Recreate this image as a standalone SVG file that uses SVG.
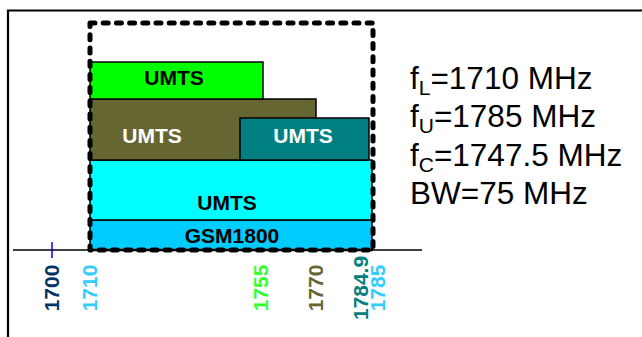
<svg xmlns="http://www.w3.org/2000/svg" width="642" height="337" viewBox="0 0 642 337">
<style>
.band{stroke:#000;stroke-width:1.5}
.lbl{font-family:"Liberation Sans",Arial,sans-serif;font-weight:bold;font-size:21px;text-anchor:middle}
.ax{font-family:"Liberation Sans",Arial,sans-serif;font-weight:bold;font-size:21px;text-anchor:middle}
.info{font-family:"Liberation Sans",Arial,sans-serif;font-size:31.5px}
.sub{font-size:21px}
</style>
<rect width="642" height="337" fill="#fff"/>
<path d="M8,337 V10.5 H642" fill="none" stroke="#000" stroke-width="2.2"/>
<g id="bands">
<g id="gsm1800"><rect class="band" x="90" y="220" width="282" height="30" fill="#00ccff"/><text class="lbl" x="232" y="243" fill="#000">GSM1800</text></g>
<g id="umts-cyan"><rect class="band" x="90" y="160" width="282" height="60" fill="#00ffff"/><text class="lbl" x="227" y="210" fill="#000">UMTS</text></g>
<g id="umts-olive"><rect class="band" x="90" y="99" width="226" height="61" fill="#666633"/><text class="lbl" x="152" y="143" fill="#fff">UMTS</text></g>
<g id="umts-teal"><rect class="band" x="240" y="118" width="129" height="42" fill="#008080"/><text class="lbl" x="303" y="143" fill="#fff">UMTS</text></g>
<g id="umts-green"><rect class="band" x="90" y="62" width="173" height="37" fill="#00ff00"/><text class="lbl" x="174" y="85" fill="#000">UMTS</text></g>
</g>
<g id="connectors">
<line x1="13" y1="250" x2="422" y2="250" stroke="#000" stroke-width="1.5"/>
<line x1="90" y1="250" x2="373" y2="250" stroke="#000" stroke-width="2.5"/>
<line x1="52" y1="242" x2="52" y2="258" stroke="#0000ff" stroke-width="1.5"/>
<rect x="90" y="23" width="283" height="227" fill="none" stroke="#000" stroke-width="5" stroke-dasharray="5 8.2" stroke-linecap="round" stroke-linejoin="round"/>
</g>
<g id="axis-labels">
<text class="ax" transform="translate(58.5,288) rotate(-90)" fill="#003366">1700</text>
<text class="ax" transform="translate(96.5,288) rotate(-90)" fill="#33ccff">1710</text>
<text class="ax" transform="translate(267.5,288) rotate(-90)" fill="#33ff33">1755</text>
<text class="ax" transform="translate(323,288) rotate(-90)" fill="#666633">1770</text>
<text class="ax" transform="translate(367.5,288) rotate(-90)" fill="#008080">1784.9</text>
<text class="ax" transform="translate(384.5,288) rotate(-90)" fill="#33ccff">1785</text>
</g>
<g id="info">
<text class="info" x="410" y="89">f<tspan class="sub" dy="6">L</tspan><tspan dy="-6">=1710 MHz</tspan></text>
<text class="info" x="410" y="127">f<tspan class="sub" dy="6">U</tspan><tspan dy="-6">=1785 MHz</tspan></text>
<text class="info" x="410" y="166">f<tspan class="sub" dy="6">C</tspan><tspan dy="-6">=1747.5 MHz</tspan></text>
<text class="info" x="410" y="204">BW=75 MHz</text>
</g>
</svg>
